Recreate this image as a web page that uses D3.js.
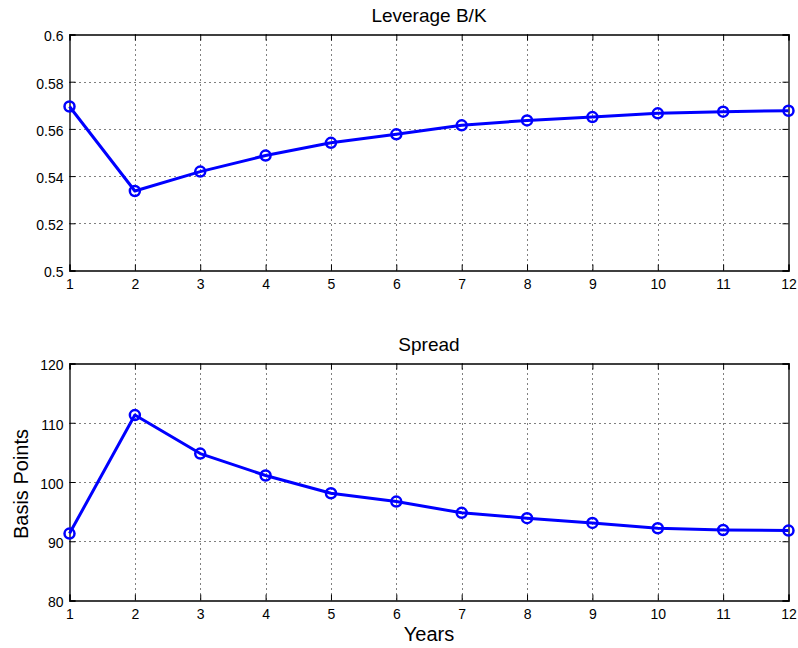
<!DOCTYPE html>
<html>
<head>
<meta charset="utf-8">
<script src="https://cdn.jsdelivr.net/npm/d3@7"></script>
<style>
  body { margin: 0; background: #fff; }
  svg { display: block; font-family: "Liberation Sans", Arial, sans-serif; }
</style>
</head>
<body>
<svg width="798" height="648"></svg>
<script>
// data
const years = [1, 2, 3, 4, 5, 6, 7, 8, 9, 10, 11, 12];
const leverage = [0.5695, 0.5337, 0.5419, 0.5487, 0.5541, 0.5577, 0.5615, 0.5636, 0.5650, 0.5666, 0.5673, 0.5677];
const spread = [91.3, 111.3, 104.8, 101.1, 98.1, 96.7, 94.8, 93.9, 93.1, 92.2, 91.9, 91.8];
const leverageTicks = [0.5, 0.52, 0.54, 0.56, 0.58, 0.6];
const spreadTicks = [80, 90, 100, 110, 120];

const svg = d3.select('svg');
const left = 69.5, right = 788.5;
const tickLen = 6;

// one MATLAB style subplot
function panel(opts) {
    const x = d3.scaleLinear().domain([1, 12]).range([left, right]);
    const y = d3.scaleLinear().domain(opts.domain).range([opts.bottom, opts.top]);
    const g = svg.append('g');

    // dotted grid (snapped to pixels so the dots stay black)
    g.selectAll('.gx').data(years.slice(1, -1)).enter().append('line')
        .attr('x1', d => Math.round(x(d)) + 0.5).attr('x2', d => Math.round(x(d)) + 0.5)
        .attr('y1', opts.top).attr('y2', opts.bottom)
        .attr('stroke', '#000').attr('stroke-width', 1).attr('stroke-dasharray', '1,4');
    g.selectAll('.gy').data(opts.ticks.slice(1, -1)).enter().append('line')
        .attr('x1', left).attr('x2', right)
        .attr('y1', d => Math.round(y(d)) + 0.5).attr('y2', d => Math.round(y(d)) + 0.5)
        .attr('stroke', '#000').attr('stroke-width', 1).attr('stroke-dasharray', '1,4');

    // axes: bottom/left with labels, top/right only inward ticks
    g.append('g').attr('transform', `translate(0,${opts.bottom})`)
        .call(d3.axisBottom(x).tickValues(years).tickSize(-tickLen).tickPadding(9).tickFormat(d3.format('d')));
    const yAxis = g.append('g').attr('transform', `translate(${left},0)`)
        .call(d3.axisLeft(y).tickValues(opts.ticks).tickSize(-tickLen).tickPadding(6).tickFormat(opts.format));
    yAxis.selectAll('text').attr('dy', '0.45em');
    g.append('g').attr('transform', `translate(0,${opts.top})`)
        .call(d3.axisTop(x).tickValues(years).tickSize(-tickLen).tickFormat(''));
    g.append('g').attr('transform', `translate(${right},0)`)
        .call(d3.axisRight(y).tickValues(opts.ticks).tickSize(-tickLen).tickFormat(''));
    g.selectAll('.domain').attr('stroke', '#000').attr('stroke-width', 1.3);
    g.selectAll('.tick line').attr('stroke', '#000');
    g.selectAll('.tick text').attr('font-size', 14).attr('fill', '#000')
        .attr('font-family', '"Liberation Sans", Arial, sans-serif');

    // the series
    const pts = years.map((yr, i) => [yr, opts.values[i]]);
    const line = d3.line().x(d => x(d[0])).y(d => y(d[1]));
    g.append('path').datum(pts).attr('d', line)
        .attr('fill', 'none').attr('stroke', '#0000ff').attr('stroke-width', 3).attr('stroke-linejoin', 'round');
    g.selectAll('.pt').data(pts).enter().append('circle')
        .attr('cx', d => x(d[0])).attr('cy', d => y(d[1])).attr('r', 5)
        .attr('fill', 'none').attr('stroke', '#0000ff').attr('stroke-width', 2.5);

    // title
    svg.append('text').attr('x', (left + right) / 2).attr('y', opts.top - 13)
        .attr('text-anchor', 'middle').attr('font-size', 19).text(opts.title);
    return { x, y };
}

panel({ title: 'Leverage B/K', values: leverage, domain: [0.5, 0.6], ticks: leverageTicks,
        top: 34.5, bottom: 270.5, format: d3.format('') });
panel({ title: 'Spread', values: spread, domain: [80, 120], ticks: spreadTicks,
        top: 363.5, bottom: 600.5, format: d3.format('d') });

// axis labels
svg.append('text').attr('x', (left + right) / 2).attr('y', 641)
    .attr('text-anchor', 'middle').attr('font-size', 20).text('Years');
svg.append('text').attr('transform', 'translate(28,484) rotate(-90)')
    .attr('text-anchor', 'middle').attr('font-size', 20).text('Basis Points');
</script>
</body>
</html>
